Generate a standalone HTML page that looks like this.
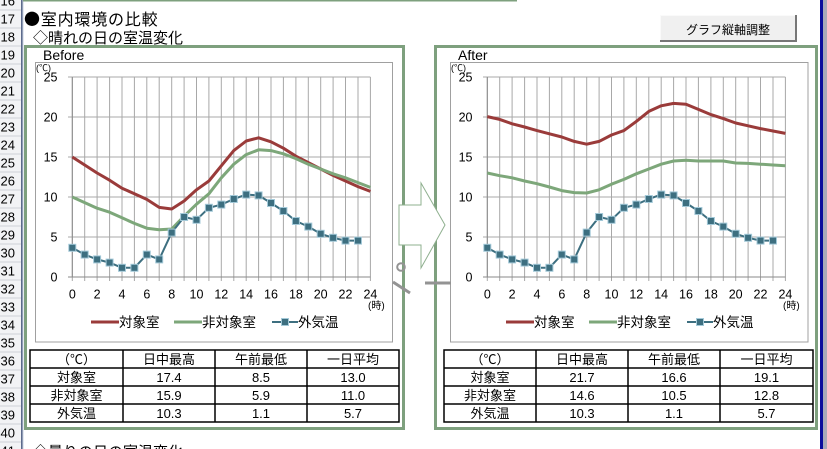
<!DOCTYPE html>
<html><head><meta charset="utf-8"><style>
html,body{margin:0;padding:0;background:#fff;width:827px;height:449px;overflow:hidden}
svg{display:block}
text{font-family:"Liberation Sans","Noto Sans CJK JP",sans-serif;fill:#000}
.cjk{font-family:"Noto Sans CJK JP","Liberation Sans",sans-serif}
</style></head><body>
<svg width="827" height="449" viewBox="0 0 827 449" xmlns="http://www.w3.org/2000/svg">
<defs>
<rect id="m" x="-3.5" y="-3.5" width="7" height="7" fill="#3d6f80" stroke="#a3c9d8" stroke-width="1"/>
<g id="grid">
<path d="M72.3 77V281M84.7 77V281M97.1 77V281M109.6 77V281M122 77V281M134.4 77V281M146.8 77V281M159.2 77V281M171.7 77V281M184.1 77V281M196.5 77V281M208.9 77V281M221.3 77V281M233.8 77V281M246.2 77V281M258.6 77V281M271 77V281M283.4 77V281M295.9 77V281M308.3 77V281M320.7 77V281M333.1 77V281M345.5 77V281M358 77V281M370.4 77V281M68 77H370.4M68 117H370.4M68 157H370.4M68 197H370.4M68 237H370.4" stroke="#a8a8a8" stroke-width="1" fill="none"/>
<path d="M68 277H370.4M72.3 77V277" stroke="#8a8a8a" stroke-width="1" fill="none"/>
<g font-size="12.5" text-anchor="end">
<text x="57.5" y="81.5">25</text><text x="57.5" y="121.5">20</text><text x="57.5" y="161.5">15</text><text x="57.5" y="201.5">10</text><text x="57.5" y="241.5">5</text><text x="57.5" y="281.5">0</text>
</g>
<g font-size="12.5" text-anchor="middle">
<text x="72.3" y="298.5">0</text><text x="97.1" y="298.5">2</text><text x="122" y="298.5">4</text><text x="146.8" y="298.5">6</text><text x="171.7" y="298.5">8</text><text x="196.5" y="298.5">10</text><text x="221.3" y="298.5">12</text><text x="246.2" y="298.5">14</text><text x="271" y="298.5">16</text><text x="295.9" y="298.5">18</text><text x="320.7" y="298.5">20</text><text x="345.5" y="298.5">22</text><text x="370.4" y="298.5">24</text>
</g>
<text x="368" y="309" font-size="10">(時)</text>
<text x="36" y="71" font-size="9">(℃)</text>
<line x1="91" y1="322" x2="119" y2="322" stroke="#9a3b3a" stroke-width="3"/>
<text x="119" y="327" font-size="13.5">対象室</text>
<line x1="174" y1="322" x2="202" y2="322" stroke="#7da77a" stroke-width="3"/>
<text x="202" y="327" font-size="13.5">非対象室</text>
<line x1="272" y1="322" x2="298" y2="322" stroke="#3d6f80" stroke-width="2"/>
<use href="#m" x="285" y="322"/>
<text x="298" y="327" font-size="13.5">外気温</text>
</g>
<g id="teal">
<polyline fill="none" stroke="#3d6f80" stroke-width="2" stroke-linejoin="round" points="72.3,247.8 84.7,254.6 97.1,259.4 109.6,262.6 122,267.8 134.4,267.8 146.8,254.6 159.2,259.4 171.7,232.6 184.1,217 196.5,219.8 208.9,207.8 221.3,204.6 233.8,199 246.2,194.6 258.6,195.4 271,203 283.4,211 295.9,221 308.3,226.6 320.7,233.8 333.1,237.8 345.5,240.6 358,240.6"/>
<use href="#m" x="72.3" y="247.8"/><use href="#m" x="84.7" y="254.6"/><use href="#m" x="97.1" y="259.4"/><use href="#m" x="109.6" y="262.6"/><use href="#m" x="122" y="267.8"/><use href="#m" x="134.4" y="267.8"/><use href="#m" x="146.8" y="254.6"/><use href="#m" x="159.2" y="259.4"/><use href="#m" x="171.7" y="232.6"/><use href="#m" x="184.1" y="217"/><use href="#m" x="196.5" y="219.8"/><use href="#m" x="208.9" y="207.8"/><use href="#m" x="221.3" y="204.6"/><use href="#m" x="233.8" y="199"/><use href="#m" x="246.2" y="194.6"/><use href="#m" x="258.6" y="195.4"/><use href="#m" x="271" y="203"/><use href="#m" x="283.4" y="211"/><use href="#m" x="295.9" y="221"/><use href="#m" x="308.3" y="226.6"/><use href="#m" x="320.7" y="233.8"/><use href="#m" x="333.1" y="237.8"/><use href="#m" x="345.5" y="240.6"/><use href="#m" x="358" y="240.6"/>
</g>
</defs>

<!-- row headers -->
<rect x="0" y="0" width="22" height="449" fill="#f2f3f5"/>
<path d="M0 10H22M0 28H22M0 46H22M0 64H22M0 82H22M0 100H22M0 118H22M0 136H22M0 154H22M0 172H22M0 190H22M0 208H22M0 226H22M0 244H22M0 262H22M0 280H22M0 298H22M0 316H22M0 334H22M0 352H22M0 370H22M0 388H22M0 406H22M0 424H22M0 442H22" stroke="#cfd2d8" stroke-width="1"/>
<rect x="21" y="0" width="1.5" height="449" fill="#5d6b8c"/>
<rect x="22.5" y="0" width="1" height="449" fill="#c8d0e0"/>
<g font-size="13" fill="#222">
<text x="0.5" y="5.5">16</text><text x="0.5" y="23.5">17</text><text x="0.5" y="41.5">18</text><text x="0.5" y="59.5">19</text><text x="0.5" y="77.5">20</text><text x="0.5" y="95.5">21</text><text x="0.5" y="113.5">22</text><text x="0.5" y="131.5">23</text><text x="0.5" y="149.5">24</text><text x="0.5" y="167.5">25</text><text x="0.5" y="185.5">26</text><text x="0.5" y="203.5">27</text><text x="0.5" y="221.5">28</text><text x="0.5" y="239.5">29</text><text x="0.5" y="257.5">30</text><text x="0.5" y="275.5">31</text><text x="0.5" y="293.5">32</text><text x="0.5" y="311.5">33</text><text x="0.5" y="329.5">34</text><text x="0.5" y="347.5">35</text><text x="0.5" y="365.5">36</text><text x="0.5" y="383.5">37</text><text x="0.5" y="401.5">38</text><text x="0.5" y="419.5">39</text><text x="0.5" y="437.5">40</text><text x="0.5" y="455.5">41</text>
</g>

<!-- top green line -->
<rect x="23" y="0" width="494" height="1.5" fill="#7ea07e"/>

<!-- headings -->
<text class="cjk" x="24" y="25" font-size="16" letter-spacing="0.8">●室内環境の比較</text>
<text class="cjk" x="33" y="43" font-size="15">◇晴れの日の室温変化</text>
<text class="cjk" x="33" y="457" font-size="15">◇曇りの日の室温変化</text>

<!-- button -->
<rect x="660" y="15" width="137" height="27" fill="#f0f0f0"/>
<path d="M660.5 41V15.5H796" stroke="#fafafa" stroke-width="1" fill="none"/>
<path d="M660 41H796V15" stroke="#777" stroke-width="2" fill="none"/>
<text x="728" y="34" font-size="12" text-anchor="middle">グラフ縦軸調整</text>

<!-- right edge -->
<rect x="820" y="0" width="3" height="449" fill="#0c0c9c"/>
<rect x="823" y="0" width="4" height="449" fill="#a9a9b9"/>

<!-- frames -->
<rect x="25.5" y="46.5" width="378" height="382" fill="#fff" stroke="#7ea07e" stroke-width="3"/>
<rect x="435.5" y="46.5" width="381" height="382" fill="#fff" stroke="#7ea07e" stroke-width="3"/>

<!-- Before chart -->
<text x="43" y="60" font-size="14">Before</text>
<rect x="35.5" y="62.5" width="357" height="279.5" fill="#fff" stroke="#a0a0a0" stroke-width="1"/>
<use href="#grid"/>
<polyline fill="none" stroke="#9a3b3a" stroke-width="3" stroke-linejoin="round" points="72.3,157 84.7,165 97.1,173 109.6,180.2 122,188.2 134.4,193.8 146.8,199.4 159.2,207.4 171.7,209 184.1,201 196.5,189.8 208.9,181 221.3,165.8 233.8,150.6 246.2,141 258.6,137.8 271,141.8 283.4,148.2 295.9,156.2 308.3,162.6 320.7,169 333.1,175.4 345.5,181 358,186.6 370.4,191.4"/>
<polyline fill="none" stroke="#7da77a" stroke-width="3" stroke-linejoin="round" points="72.3,197 84.7,202.6 97.1,208.2 109.6,212.2 122,217.8 134.4,223.4 146.8,228.2 159.2,229.8 171.7,229 184.1,216.2 196.5,204.2 208.9,193.8 221.3,177.8 233.8,164.2 246.2,154.6 258.6,149.8 271,150.6 283.4,153.8 295.9,158.6 308.3,164.2 320.7,169 333.1,173.8 345.5,177.8 358,182.6 370.4,187.4"/>
<use href="#teal"/>

<!-- After chart -->
<text x="458" y="60" font-size="14">After</text>
<rect x="450.5" y="62.5" width="357.5" height="279.5" fill="#fff" stroke="#a0a0a0" stroke-width="1"/>
<g transform="translate(415,0)">
<use href="#grid"/>
<polyline fill="none" stroke="#9a3b3a" stroke-width="3" stroke-linejoin="round" points="72.3,116.6 84.7,119.4 97.1,123.8 109.6,127 122,130.6 134.4,133.8 146.8,137 159.2,141.4 171.7,144.2 184.1,141.4 196.5,135 208.9,130.6 221.3,121.4 233.8,111.4 246.2,105.8 258.6,103.4 271,104.2 283.4,109.4 295.9,114.6 308.3,118.6 320.7,123 333.1,125.8 345.5,128.6 358,131 370.4,133.4"/>
<polyline fill="none" stroke="#7da77a" stroke-width="3" stroke-linejoin="round" points="72.3,173 84.7,175.7 97.1,177.8 109.6,181 122,183.7 134.4,187 146.8,190.6 159.2,192.6 171.7,193 184.1,189.8 196.5,184.2 208.9,179.4 221.3,173.8 233.8,169 246.2,164.2 258.6,161 271,160.2 283.4,161 295.9,161 308.3,161 320.7,163 333.1,163.4 345.5,164.2 358,165 370.4,165.8"/>
<use href="#teal"/>
</g>

<!-- tables -->
<g stroke="#000" stroke-width="1.5" fill="none">
<rect x="30" y="350" width="369" height="72"/>
<path d="M30 368H399M30 386H399M30 404H399M123 350V422M215 350V422M307 350V422"/>
<rect x="444" y="350" width="369" height="72"/>
<path d="M444 368H813M444 386H813M444 404H813M536 350V422M628 350V422M720 350V422"/>
</g>
<g font-size="13" text-anchor="middle">
<text x="76.5" y="364">（℃）</text><text x="169" y="364">日中最高</text><text x="261" y="364">午前最低</text><text x="353" y="364">一日平均</text>
<text x="76.5" y="382">対象室</text><text x="169" y="382">17.4</text><text x="261" y="382">8.5</text><text x="353" y="382">13.0</text>
<text x="76.5" y="400">非対象室</text><text x="169" y="400">15.9</text><text x="261" y="400">5.9</text><text x="353" y="400">11.0</text>
<text x="76.5" y="418">外気温</text><text x="169" y="418">10.3</text><text x="261" y="418">1.1</text><text x="353" y="418">5.7</text>
<text x="490" y="364">（℃）</text><text x="582" y="364">日中最高</text><text x="674" y="364">午前最低</text><text x="766.5" y="364">一日平均</text>
<text x="490" y="382">対象室</text><text x="582" y="382">21.7</text><text x="674" y="382">16.6</text><text x="766.5" y="382">19.1</text>
<text x="490" y="400">非対象室</text><text x="582" y="400">14.6</text><text x="674" y="400">10.5</text><text x="766.5" y="400">12.8</text>
<text x="490" y="418">外気温</text><text x="582" y="418">10.3</text><text x="674" y="418">1.1</text><text x="766.5" y="418">5.7</text>
</g>

<!-- arrow and connector fragments -->
<polygon points="399,205 421,205 421,183 445,225 421,268 421,245 399,245" fill="#fff" stroke="#8fb08f" stroke-width="1"/>
<circle cx="401" cy="267" r="3.8" fill="none" stroke="#939393" stroke-width="2"/>
<line x1="393" y1="282" x2="410" y2="293" stroke="#939393" stroke-width="3"/>
<line x1="425" y1="283" x2="451" y2="283" stroke="#939393" stroke-width="3"/>
</svg>
</body></html>
